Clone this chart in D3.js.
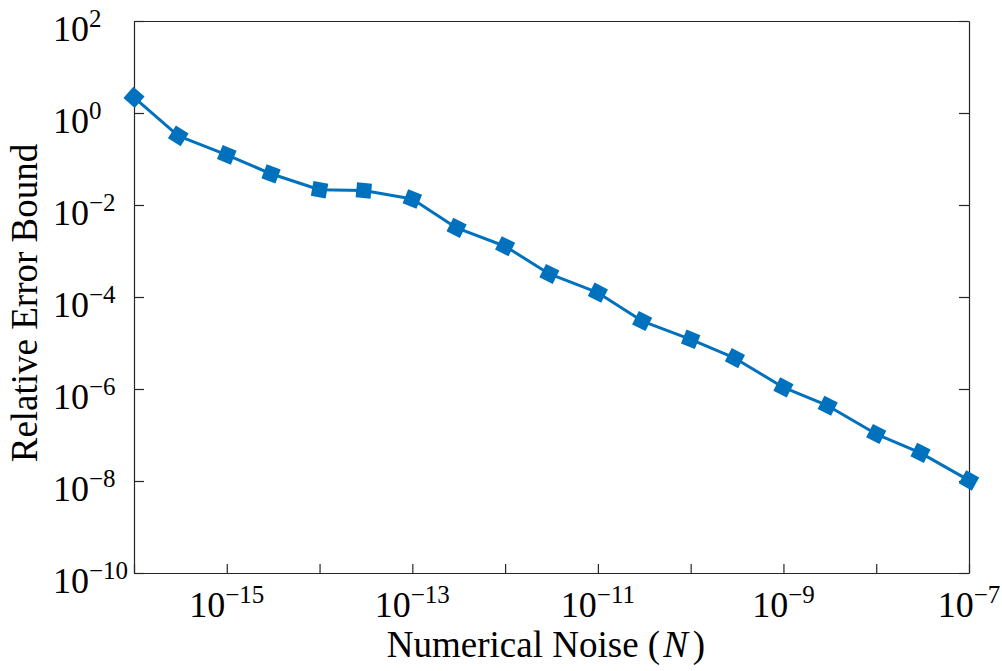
<!DOCTYPE html>
<html>
<head>
<meta charset="utf-8">
<script src="https://cdn.jsdelivr.net/npm/d3@7"></script>
<style>
  body { margin: 0; background: #fff; }
  svg { display: block; font-family: "Liberation Serif", "Times New Roman", serif; }
</style>
</head>
<body>
<svg id="svg" width="1002" height="671"></svg>
<script>
// noise level N and the relative error bound
const noise = [1e-16, 3e-16, 1e-15, 3e-15, 1e-14, 3e-14, 1e-13, 3e-13, 1e-12, 3e-12,
  1e-11, 3e-11, 1e-10, 3e-10, 1e-9, 3e-9, 1e-8, 3e-8, 1e-7];
const errorBound = [2.19, 0.318, 0.123, 0.0477, 0.0215, 0.0207, 0.0135, 3.18e-3, 1.27e-3, 3.17e-4,
  1.24e-4, 3.0e-5, 1.2e-5, 4.68e-6, 1.08e-6, 4.33e-7, 1.05e-7, 4.08e-8, 1.03e-8];

const xTickExp = [-16, -15, -14, -13, -12, -11, -10, -9, -8, -7];
const xLabelExp = [-15, -13, -11, -9, -7];
const yTickExp = [-10, -8, -6, -4, -2, 0, 2];

const data = noise.map((n, i) => ({ n: n, e: errorBound[i] }));

const plotLeft = 134, plotRight = 969, plotTop = 21, plotBottom = 573;
const axisColor = '#262626';
const lineColor = '#0072BD';

const svg = d3.select('#svg');

const x = d3.scaleLog().domain([1e-16, 1e-7]).range([plotLeft, plotRight]);
const y = d3.scaleLog().domain([1e-10, 1e2]).range([plotBottom, plotTop]);

const xTicks = xTickExp.map(p => Math.pow(10, p));
const yTicks = yTickExp.map(p => Math.pow(10, p));

function styleAxis(g) {
  g.selectAll('path.domain').attr('stroke', axisColor).attr('stroke-width', 1.2);
  g.selectAll('.tick line').attr('stroke', axisColor).attr('stroke-width', 1.2);
  g.selectAll('.tick text').remove();
}

svg.append('g')
  .attr('transform', `translate(0,${plotBottom})`)
  .call(d3.axisBottom(x).tickValues(xTicks).tickSizeInner(-9).tickSizeOuter(0).tickFormat(''))
  .call(styleAxis);

svg.append('g')
  .attr('transform', `translate(0,${plotTop})`)
  .call(d3.axisTop(x).tickValues([]).tickSizeOuter(0))
  .call(styleAxis);

svg.append('g')
  .attr('transform', `translate(${plotLeft},0)`)
  .call(d3.axisLeft(y).tickValues(yTicks).tickSizeInner(-10).tickSizeOuter(0).tickFormat(''))
  .call(styleAxis);

svg.append('g')
  .attr('transform', `translate(${plotRight},0)`)
  .call(d3.axisRight(y).tickValues(yTicks).tickSizeInner(-10).tickSizeOuter(0).tickFormat(''))
  .call(styleAxis);

// power-of-ten tick labels
function powLabel(sel, p) {
  sel.append('tspan').text('10');
  sel.append('tspan')
    .attr('dy', -14)
    .attr('font-size', 25)
    .text(p < 0 ? '\u2212' + Math.abs(p) : String(p));
}

svg.append('g').selectAll('text')
  .data(xLabelExp)
  .join('text')
  .attr('x', d => x(Math.pow(10, d)))
  .attr('y', 617)
  .attr('text-anchor', 'middle')
  .attr('font-size', 36)
  .attr('fill', '#000')
  .each(function (d) { powLabel(d3.select(this), d); });

svg.append('g').selectAll('text')
  .data(yTickExp)
  .join('text')
  .attr('x', 53)
  .attr('y', d => y(Math.pow(10, d)) + 20)
  .attr('text-anchor', 'start')
  .attr('font-size', 36)
  .attr('fill', '#000')
  .each(function (d) { powLabel(d3.select(this), d); });

// axis titles
const xTitle = svg.append('text')
  .attr('x', 546)
  .attr('y', 657)
  .attr('text-anchor', 'middle')
  .attr('font-size', 37)
  .attr('fill', '#000');
xTitle.append('tspan').text('Numerical Noise (');
xTitle.append('tspan').attr('dx', 3).attr('font-style', 'italic').text('N');
xTitle.append('tspan').attr('dx', 5).text(')');

svg.append('text')
  .attr('transform', 'translate(37,303) rotate(-90)')
  .attr('text-anchor', 'middle')
  .attr('font-size', 37)
  .attr('fill', '#000')
  .text('Relative Error Bound');

// series line
const line = d3.line()
  .x(d => x(d.n))
  .y(d => y(d.e));

svg.append('path')
  .datum(data)
  .attr('fill', 'none')
  .attr('stroke', lineColor)
  .attr('stroke-width', 3)
  .attr('stroke-linejoin', 'round')
  .attr('d', line);

// square markers turned along the line
function markerAngle(i) {
  const pts = data.map(d => [x(d.n), y(d.e)]);
  const a = pts[Math.max(i - 1, 0)];
  const b = pts[Math.min(i + 1, pts.length - 1)];
  return Math.atan2(b[1] - a[1], b[0] - a[0]) * 180 / Math.PI;
}

const size = 15;
svg.append('g').selectAll('rect')
  .data(data)
  .join('rect')
  .attr('x', -size / 2)
  .attr('y', -size / 2)
  .attr('width', size)
  .attr('height', size)
  .attr('fill', lineColor)
  .attr('transform', (d, i) => `translate(${x(d.n)},${y(d.e)}) rotate(${markerAngle(i)})`);
</script>
</body>
</html>
